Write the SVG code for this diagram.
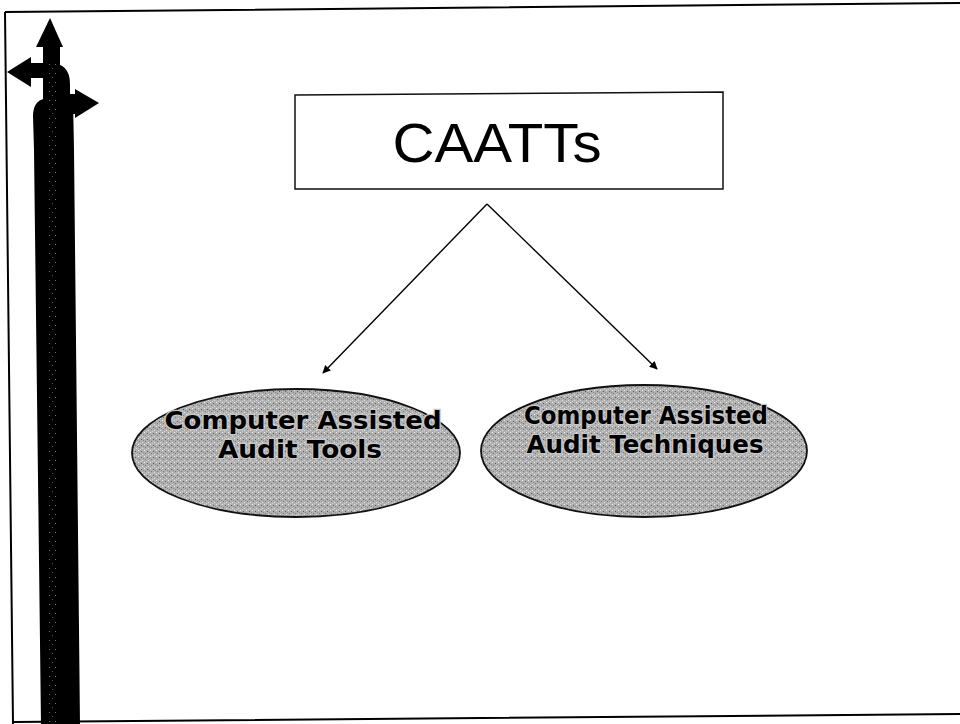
<svg xmlns="http://www.w3.org/2000/svg" width="960" height="724" viewBox="0 0 960 724">
<defs>
<pattern id="speck" width="6" height="6" patternUnits="userSpaceOnUse">
<rect width="6" height="6" fill="#b0b0b0"/>
<rect x="0" y="0" width="1" height="1" fill="#eee"/>
<rect x="3" y="1" width="1" height="1" fill="#5a5a5a"/>
<rect x="1" y="3" width="1" height="1" fill="#7a7a7a"/>
<rect x="4" y="4" width="1" height="1" fill="#e0e0e0"/>
<rect x="5" y="2" width="1" height="1" fill="#8a8a8a"/>
<rect x="2" y="5" width="1" height="1" fill="#d0d0d0"/>
</pattern>
<pattern id="barspeck" width="6" height="9" patternUnits="userSpaceOnUse">
<rect width="6" height="9" fill="#000"/>
<rect x="1" y="1" width="1" height="1" fill="#777"/>
<rect x="4" y="5" width="1" height="1" fill="#555"/>
</pattern>
<marker id="ah" viewBox="0 0 10 10" refX="9" refY="5" markerWidth="11" markerHeight="8" orient="auto" markerUnits="userSpaceOnUse">
<path d="M0,0 L10,5 L0,10 z" fill="#000"/>
</marker>
<style>
.node-rect{fill:#fff;stroke:#111;stroke-width:1.5}
.ell{fill:url(#speck);stroke:#111;stroke-width:1.8}
.lbl{font-family:"DejaVu Sans","Liberation Sans",sans-serif;font-weight:bold;font-size:24px;fill:#000;stroke:#c8c8c8;stroke-width:2.4;paint-order:stroke;text-anchor:middle}
.conn{stroke:#000;stroke-width:1.4;fill:none}
</style>
</defs>
<rect width="960" height="724" fill="#fff"/>
<!-- frame -->
<path d="M5,12 L960,3 M5,12 L13,724 M13,722 L960,714" stroke="#000" stroke-width="2" fill="none"/>
<!-- decorative bar with arrows -->
<g id="deco">
<path d="M33,116 Q33,98 50,98 L73,98 L74,150 L80,724 L41,724 L34,150 Z" fill="#000"/>
<rect x="43" y="44" width="17" height="60" fill="#000"/>
<polygon points="50,18 36,47 63,47" fill="#000"/>
<path d="M31,63 L50,63 Q70,63 70,84 L70,102 L58,102 L58,86 Q58,78 50,78 L31,78 Z" fill="#000"/>
<polygon points="7,72 31,57 31,87" fill="#000"/>
<rect x="68" y="94" width="9" height="20" fill="#000"/>
<polygon points="99,103 75,89 75,118" fill="#000"/>
<rect x="47" y="60" width="9" height="664" fill="url(#barspeck)"/>
</g>
<g id="caatts">
<path class="node-rect" d="M295,95 L723,92 L723,189 L295,189 Z"/>
<text x="497" y="162" font-family="'Liberation Sans',sans-serif" font-size="56" text-anchor="middle" textLength="209" lengthAdjust="spacingAndGlyphs" fill="#000">CAATTs</text>
</g>
<g id="connectors">
<line class="conn" x1="487" y1="204" x2="323" y2="373" marker-end="url(#ah)"/>
<line class="conn" x1="487" y1="204" x2="657" y2="369" marker-end="url(#ah)"/>
</g>
<g id="tools">
<ellipse class="ell" cx="296" cy="453" rx="164" ry="64"/>
<text class="lbl" x="303" y="429" textLength="277" lengthAdjust="spacingAndGlyphs">Computer Assisted</text>
<text class="lbl" x="300" y="458" textLength="164" lengthAdjust="spacingAndGlyphs">Audit Tools</text>
</g>
<g id="techniques">
<ellipse class="ell" cx="644" cy="451" rx="163" ry="66"/>
<text class="lbl" x="646" y="424" textLength="244" lengthAdjust="spacingAndGlyphs">Computer Assisted</text>
<text class="lbl" x="645" y="453" textLength="237" lengthAdjust="spacingAndGlyphs">Audit Techniques</text>
</g>
</svg>
